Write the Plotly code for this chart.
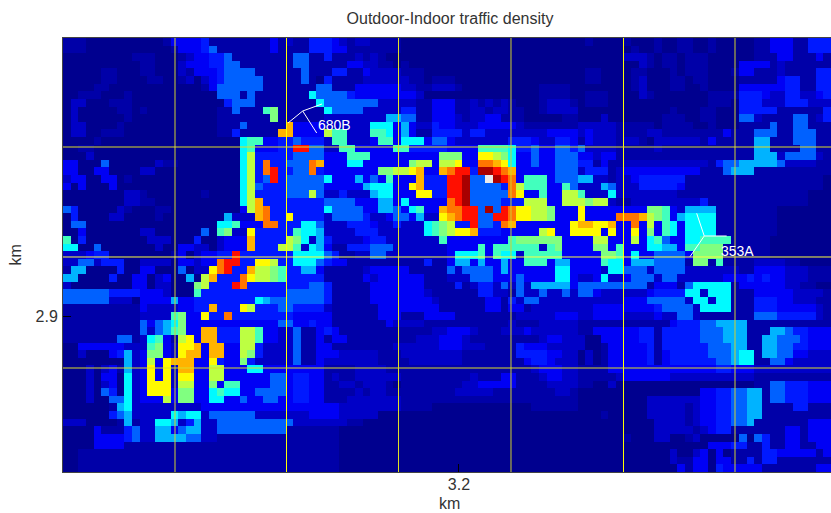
import plotly.graph_objects as go

# Levels: one character per cell, 0..f = rising traffic density, g = saturated
LEVELS = {"0":0.0,"1":.025,"2":.055,"3":.10,"4":.15,"5":.22,"6":.30,"7":.37,"8":.44,"9":.50,
          "a":.56,"b":.63,"c":.70,"d":.76,"e":.86,"f":.96,"g":1.0}

LEFT = """
1110000000 0001333341 1111111312 1144
1110000000 0000133345 1111111311 1144
0000000001 1100012334 4511111111 5511
0000000000 1100023334 4551111111 5511
0000011000 1100021333 4555511111 1511
0000011000 0110012023 4555551111 1510
0000110000 0000000013 5555551111 1115
0011100010 0000000000 5551511111 1175
0220001110 0000000000 0455511111 1117
0200000110 1000000000 1151118911 1111
0200000010 0000000000 1111111911 1111
0220000100 0000000000 1115111 11c 3333
0220011100 0000000000 1141111 1cc 3333
0000100000 0000000000 0007883344 5444
0011000000 0000000000 0007833344 ee55
0002000000 0000000000 0007a44444 5555
3300050000 0021100000 0007a4d445 55dc
3300330000 2200000000 0007a4de44 55d4
2330033010 0000000000 0007a45e45 5555
3030003000 0000000000 0007a54445 5555
0000000022 1000000010 0007a44445 55a5
0000000022 1100000000 0007ac4444 4444
5400000210 0011000000 0003acd444 4444
0400002200 0010000000 06222cd44b 4444
0550000000 0000000000 77833 3dd44 4775
0030000000 2200000050 8922b44444 8776
8040000000 0222000400 2333c4444a 9726
7700500000 0020033220 2333c444aa 8276
2223440000 0000130233 44e4444444 7777
2255244400 2222033233 dee44bba44 7775
1660000400 3300050 22b de44caa984 4663
6600004003 3023006 0ac 444dbaa984 4444
2000000003 3022000 9a4 44ed444444 4455
5555554444 3332000 844 4444444445 5555
5555552220 3333633444 4444476555 5555
1111111111 3222233 44c 444ba44455 4444
1111111111 2222893 3b4 4d44444444 3333
1111111111 5356793333 3333333355 3343
1111111111 5256893 3cc 444aa83322 5113
1111111551 27831ab3cc 444aa83322 5113
0033333322 28932bbc3c c33aa42222 5113
0020003462 39932bcc3c c33a942222 5113
0000000062 3a3bccc33b 4339422222 5113
0002023162 3b3b2cc33a a333773333 3333
0002033072 3b3b2bb33a a333333553 4433
0002023072 3bbb2aa339 3883333553 4433
0002054072 3bbb399337 8773355553 4433
0002005572 333a399337 7335335533 4433
0000001672 2222222233 3333333333 3333
0000004562 2222767725 5555522222 2233
2220000161 2277624622 5555555555 2222
0000311145 2266356622 5555555551 1111
0000333345 2266665522 1111111111 1111
0000333311 1111111111 1111111111 1111
0011111111 1111111111 1111111111 1111
0011111111 1111111111 1111111111 1111
0011111111 1111111111 1111111111 1111
"""

MIDDLE = """
432122 1111000000 0000000000 0000000
433111 1111000000 0000000000 0000000
411121 2100000000 0000000000 0000000
111332 2110100000 0000000000 0000000
144113 2222111000 0000000000 0000000
411112 2222211011 1000000000 0000000
511133 3333221122 2100000000 0011110
555433 3333332000 0000000000 0011110
555555 5222221133 3112121210 0012221
755552 2222441133 3112212211 0012222
222222 2266551133 3212233111 0000011
222222 7773632243 3222333332 1111111
a88222 8873631144 4424422222 2223333
288222 3883777355 3222222244 4322443
228833 3338844444 3333888874 4533554
333888 3333333339 9933bba973 3533555
333773 333339aa3a ab33ddcb73 3533555
333333 399aabc33c dee4ffedc3 3333555
733363 538333c444 eef55gfed3 8883555
333336 77733bc444 eef55554da 8883385
224222 677333bb44 eef55555db 3383 3aa
555533 3663733333 def5555444 aaa33aa
755553 3665378 33c ddee5f5edb baa9333
255554 2235536 22b cdee55eedb baa9333
222444 3224222789 a44e554dc3 333333b
222244 4222222789 abbc444333 33ab33b
422223 4422222228 3333333389 9999933
311444 5552222222 3333838888 8828933
541122 5522222222 3777838772 8888833
433111 1111111411 3663633633 8883663
111112 3333311111 5255553633 3333773
111113 2333333111 2225553335 3333773
411111 3333333111 1412442525 2666663
411111 3333333211 1111442215 2252252
411111 3333333321 1111133142 5522222
211111 1333333331 1111133133 1222222
311111 1333111333 3111111112 2222333
311111 1132222111 1111111121 1122222
431111 1111111122 3332111222 3222222
133111 1111112223 3321111111 1123322
311111 1112222223 3322211114 3332222
332222 2111222222 2211111114 4443322
222222 2111122222 2211111111 3443222
111122 2211111111 1111111111 1233322
121122 2222111111 1112111331 1123322
112212 2210111111 1122333331 1112222
111121 2211111111 1222221111 1111221
111222 2222111111 1111111111 1111111
332222 2222111100 0000000000 0111111
332222 2000000000 0000000000 0000000
222110 0000000000 0000000000 0000000
110000 0000000000 0000000000 0000000
110000 0000000000 0000000000 0000000
110000 0000000000 0000000000 0000000
110000 0000000000 0000000000 0000000
110000 0000000000 0000000000 0000000
110000 0000000000 0000000000 0000000
"""

RIGHT = """
010 0001000100 1100100000 1133311444
000 0000100100 1100100000 1133311444
000 0002221011 0111000000 1113311131
000 0000021011 0111000033 3312111111
011 0000110001 0111000133 1112111144
011 0000120001 1011000011 1113441144
000 0000120001 1001000033 3333441144
011 1000021000 0000111144 4322442234
011 1000000000 0000111044 4222444222
000 0000000001 0001100044 4441111114
000 2000000011 1001100055 2111155124
222 2211111011 1100100011 1151155111
232 2211112211 1111113111 5551155511
132 2212210222 2221311111 6611155511
522 2211111211 1111111111 6611115511
332 3311111111 1111111111 6662555521
441 3112222222 2222145566 6665222211
244 4123333333 3331115666 1111111111
662 2122344444 4111111111 1111111110
222 6522244444 3111111111 1111111110
822 2722222222 1111111111 1111111000
a9a a211222222 2224111111 1111111000
b33 3333339983 2666611111 1110000000
b33 33dddca983 6777711111 1110000000
ccb bc33d3a387 3777711111 1110000000
bbb 3b33b39387 3777711111 1110000000
33a a333a37853 3778888111 1100000000
339 9383337766 3889991111 1100000000
333 9983733555 5399991111 1100000000
333 8773666555 5199181111 2222110000
333 2775552555 5222222211 3333222111
223 7223555255 2222223334 3433222111
555 5555551333 1577777133 3333221100
553 2222223444 4772777111 3333322221
222 2223335555 5277277111 4443322211
223 3333333455 5527777111 4443333321
223 3332222322 5521111111 5554444421
111 1111111113 4445566661 1111111111
113 3333344144 4445556661 1166544333
200 3333344144 4445556661 1665554333
200 1333334144 4444555661 1665544333
020 1333334134 4444555677 1665533222
020 1333334134 4444455677 1155322222
111 1333333333 3333344333 2222222222
111 1123333332 2222222222 1111111111
110 0200000000 0000000000 1155444333
000 0000000000 0003344556 6155444333
000 0000002222 2223344556 6155444333
000 0000002222 2123344556 6111144111
000 1000002222 2123344556 6111111111
000 0000000222 2123344556 1111111333
000 0000000222 2212344111 1111331333
000 0001000220 0120000050 5411331333
000 0000000000 0000333441 1411331133
000 0000000002 0023030111 1443333313
000 0000000002 1133033114 1441111111
000 0000000000 3133043333 3111111133
"""

# Axis calibration (km)
X_TICKS = [3.2]
Y_TICKS = [2.9]
X_RANGE = [3.02353, 3.36578]
Y_RANGE = [2.82941, 3.02579]

# Overlay grid (km): positions and colours
GRID_X = [3.07344, 3.12313, 3.17304, 3.22317, 3.27331, 3.32300]
GRID_X_COL = ["#d0d030", "#ffff00", "#e0e020", "#d0d030", "#ffff00", "#d0d030"]
GRID_Y = [2.97647, 2.92670, 2.87647]
GRID_Y_COL = ["#dcdc28", "#ffff40", "#dcdc28"]

# Antenna sites
SITE_NAMES = ["680B", "353A"]
SITE_CENTRE_X = [3.13035, 3.30930]
SITE_CENTRE_Y = [2.99276, 2.93620]
SITE_ARM_X = [[3.12380, 3.13659, 3.13895], [3.30592, 3.31929, 3.30294]]
SITE_ARM_Y = [[2.98733, 2.98281, 2.99593], [2.94647, 2.93620, 2.92683]]
SITE_LABEL_X = [3.13627, 3.31586]
SITE_LABEL_Y = [2.98643, 2.92941]


def clean(block):
    return [r.replace(" ", "") for r in block.strip().splitlines()]


left, mid, right = clean(LEFT), clean(MIDDLE), clean(RIGHT)
rows = []
for a, b, c in zip(left, mid, right):
    a = a.ljust(34, a[-1])[:34]
    b = b.ljust(33, b[-1])[:33]
    c = c.ljust(33, c[-1])[:33]
    rows.append([LEVELS[ch] for ch in a + b + c])
rows = rows[::-1]  # top row first in the text; y rises upward

n_rows, n_cols = len(rows), len(rows[0])
dx = (X_RANGE[1] - X_RANGE[0]) / n_cols
dy = (Y_RANGE[1] - Y_RANGE[0]) / n_rows

jet = [[0, "rgb(0,0,143)"], [0.11, "rgb(0,0,255)"], [0.125, "rgb(0,0,255)"], [0.375, "rgb(0,255,255)"],
       [0.625, "rgb(255,255,0)"], [0.875, "rgb(255,0,0)"], [0.98, "rgb(148,0,0)"], [0.985, "rgb(235,235,235)"],
       [1, "rgb(235,235,235)"]]

fig = go.Figure(go.Heatmap(z=rows, x0=X_RANGE[0] + dx / 2, dx=dx, y0=Y_RANGE[0] + dy / 2, dy=dy,
                           colorscale=jet, zmin=0, zmax=1, showscale=False, hoverinfo="skip"))

for xv, col in zip(GRID_X, GRID_X_COL):
    fig.add_shape(type="line", x0=xv, x1=xv, y0=Y_RANGE[0], y1=Y_RANGE[1], line=dict(color=col, width=1), layer="above")
for yv, col in zip(GRID_Y, GRID_Y_COL):
    fig.add_shape(type="line", x0=X_RANGE[0], x1=X_RANGE[1], y0=yv, y1=yv, line=dict(color=col, width=1), layer="above")

for name, cx, cy, ax, ay, lx, ly in zip(SITE_NAMES, SITE_CENTRE_X, SITE_CENTRE_Y, SITE_ARM_X, SITE_ARM_Y,
                                        SITE_LABEL_X, SITE_LABEL_Y):
    for px, py in zip(ax, ay):
        fig.add_trace(go.Scatter(x=[cx, px], y=[cy, py], mode="lines", line=dict(color="white", width=1),
                                 hoverinfo="skip", showlegend=False))
    fig.add_annotation(x=lx, y=ly, text=name, showarrow=False, xanchor="left", yanchor="middle",
                       font=dict(family="Liberation Sans, Arial", size=14, color="white"))

# Axis titles
fig.add_annotation(text="km", xref="paper", yref="paper", x=0.5033, y=-0.0725, showarrow=False, borderpad=0,
                   xanchor="center", yanchor="middle", font=dict(size=16, color="#333333"))
fig.add_annotation(text="km", xref="paper", yref="paper", x=-0.0625, y=0.499, textangle=-90, showarrow=False,
                   xanchor="center", yanchor="middle", font=dict(size=16, color="#333333"))

fig.update_layout(
    width=831, height=513, margin=dict(l=63, r=0, t=38, b=41), paper_bgcolor="white", plot_bgcolor="rgb(0,0,143)",
    showlegend=False,
    font=dict(family="Liberation Sans, Arial", color="#333333", size=15),
    title=dict(text="Outdoor-Indoor traffic density", x=450 / 831, xanchor="center", y=1 - 18 / 513, yanchor="middle",
               font=dict(size=16, color="#333333")),
    xaxis=dict(range=X_RANGE, tickvals=X_TICKS, ticktext=["3.2"], ticks="inside", ticklen=8, tickcolor="#000000",
               showgrid=False, zeroline=False, showline=True, linecolor="#444444", linewidth=1, mirror=True,
               automargin=False, tickfont=dict(size=16), ticklabelstandoff=-2),
    yaxis=dict(range=Y_RANGE, tickvals=Y_TICKS, ticktext=["2.9"], ticks="inside", ticklen=8, tickcolor="#000000",
               showgrid=False, zeroline=False, showline=True, linecolor="#444444", linewidth=1, mirror=True,
               automargin=False, tickfont=dict(size=16), ticklabelstandoff=1),
)

fig.write_html("out.html", config={"displayModeBar": False},
               post_script="document.body.style.margin='0';document.body.style.overflow='hidden';")
